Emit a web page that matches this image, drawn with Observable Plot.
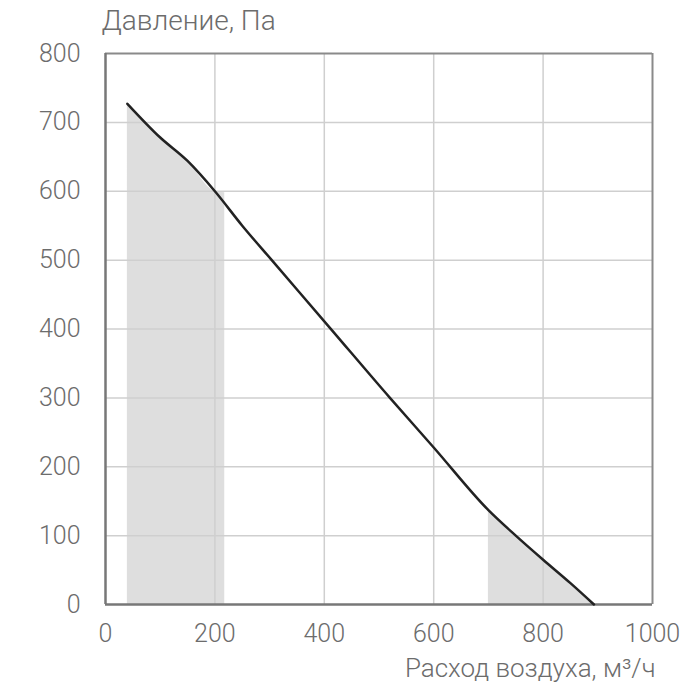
<!DOCTYPE html>
<html>
<head>
<meta charset="utf-8">
<script src="https://cdn.jsdelivr.net/npm/d3@7"></script>
<script src="https://cdn.jsdelivr.net/npm/@observablehq/plot@0.6"></script>
<style>
  html, body { margin: 0; padding: 0; background: #fff; }
  #chart { width: 700px; height: 700px; }
  #chart svg text { font-weight: 300; }
</style>
</head>
<body>
<div id="chart"></div>
<script>
// Curve: airflow (m³/h) vs pressure (Pa)
const flow     = [40, 100, 150, 200, 250, 304, 411, 520, 600, 700, 750, 800, 850, 893];
const pressure = [727, 678, 644, 600, 550, 500, 401, 300, 228, 137, 100, 65, 31, 0];

// Shaded zones (area under curve)
const zoneLowFlow     = [40, 100, 150, 200, 218];
const zoneLowPressure = [727, 678, 644, 600, 598];
const zoneHighFlow     = [700, 750, 800, 850, 893];
const zoneHighPressure = [137, 100, 65, 31, 0];

const xTicks = [0, 200, 400, 600, 800, 1000];
const yTicks = [0, 100, 200, 300, 400, 500, 600, 700, 800];
const xGrid = [200, 400, 600, 800];
const yGrid = [100, 200, 300, 400, 500, 600, 700];

const yTitle = "Давление, Па";
const xTitle = "Расход воздуха, м³/ч";

const curve = flow.map((f, i) => ({x: f, y: pressure[i]}));
const zoneLow = zoneLowFlow.map((f, i) => ({x: f, y: zoneLowPressure[i]}));
const zoneHigh = zoneHighFlow.map((f, i) => ({x: f, y: zoneHighPressure[i]}));

const textColor = "#6c6c6c";

const chart = Plot.plot({
  width: 700,
  height: 700,
  marginLeft: 105,
  marginRight: 48,
  marginTop: 53,
  marginBottom: 96,
  style: {fontFamily: "Roboto, 'Noto Sans', sans-serif", fontSize: "25px", color: textColor, background: "#fff"},
  x: {domain: [0, 1000], ticks: xTicks, tickSize: 0, tickPadding: 20, tickFormat: d => String(d), label: null},
  y: {domain: [0, 800], ticks: yTicks, tickSize: 0, tickPadding: 25, tickFormat: d => String(d), label: null},
  marks: [
    Plot.areaY(zoneLow, {x: "x", y: "y", fill: "#dedede", curve: "monotone-x"}),
    Plot.areaY(zoneHigh, {x: "x", y: "y", fill: "#dedede", curve: "monotone-x"}),
    Plot.ruleX(xGrid, {stroke: "#cfcfcf", strokeWidth: 1.5}),
    Plot.ruleY(yGrid, {stroke: "#cfcfcf", strokeWidth: 1.5}),
    Plot.ruleY([800], {stroke: "#8a8a8a", strokeWidth: 2}),
    Plot.ruleX([1000], {stroke: "#8a8a8a", strokeWidth: 2}),
    Plot.ruleY([0], {stroke: "#777", strokeWidth: 2.5}),
    Plot.ruleX([0], {stroke: "#777", strokeWidth: 2.5}),
    Plot.line(curve, {x: "x", y: "y", stroke: "#222", strokeWidth: 2.5, curve: "monotone-x"}),
    Plot.text([yTitle], {frameAnchor: "top-left", lineAnchor: "middle", text: d => d, textAnchor: "start", dx: -4, dy: -32, fill: textColor, fontSize: 28, fontWeight: 300}),
    Plot.text([xTitle], {frameAnchor: "bottom-right", lineAnchor: "middle", text: d => d, textAnchor: "end", dx: 3, dy: 64, fill: textColor, fontSize: 26, fontWeight: 300})
  ]
});
document.getElementById("chart").appendChild(chart);
</script>
</body>
</html>
